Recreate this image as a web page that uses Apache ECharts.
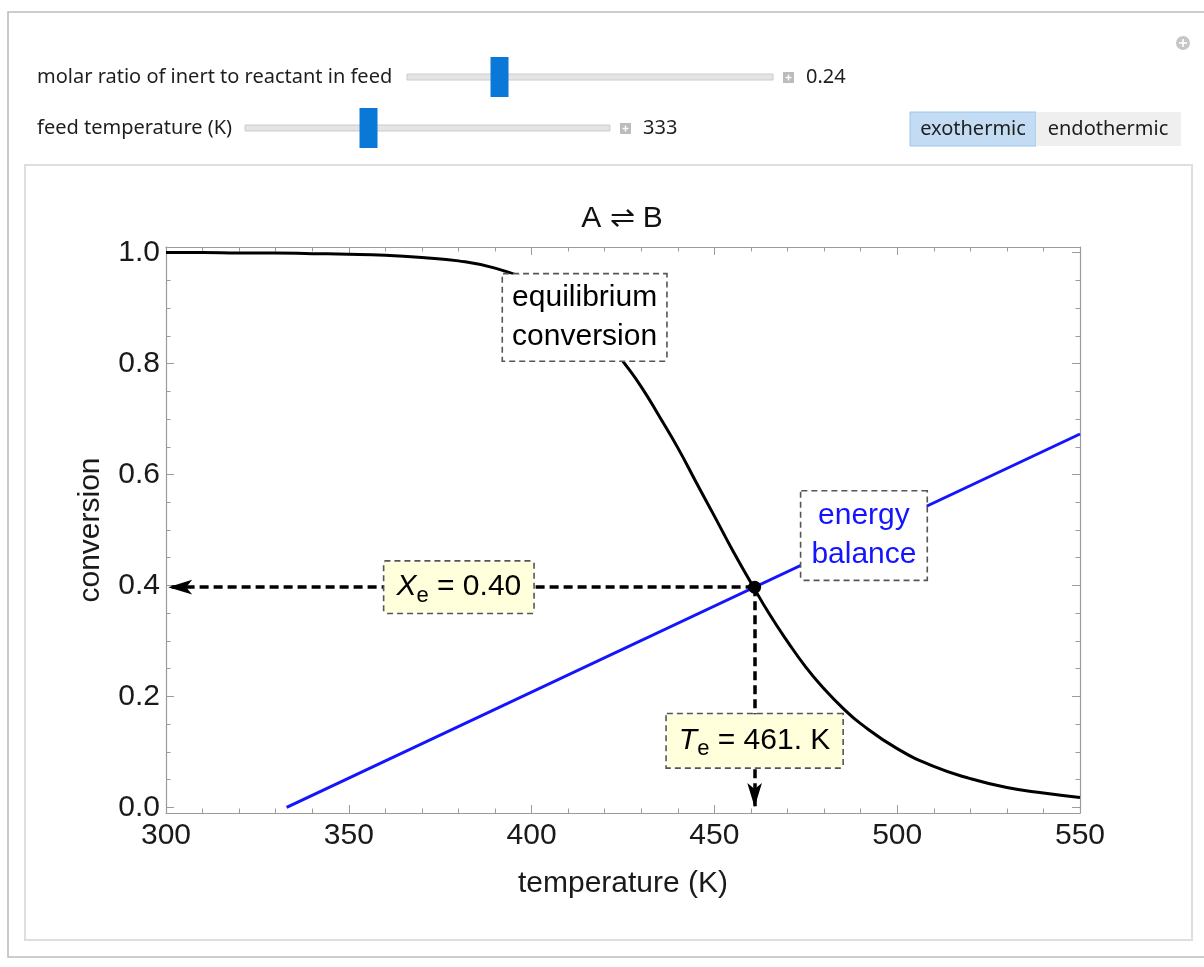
<!DOCTYPE html>
<html>
<head>
<meta charset="utf-8">
<script src="https://cdn.jsdelivr.net/npm/echarts@6/dist/echarts.min.js"></script>
<style>
html,body{margin:0;padding:0;background:#fff;}
#chart{width:1204px;height:967px;}
</style>
</head>
<body>
<div id="chart"></div>
<script>
// ---------------- data ----------------
const temperatureK = [300,310,320,330,340,350,360,370,380,390,400,405,410,415,420,425,430,435,440,445,450,455,460,465,470,475,480,485,490,500,510,520,530,540,550];
const equilibriumConversion = [1.000,1.000,0.999,0.999,0.998,0.997,0.995,0.991,0.985,0.972,0.949,0.932,0.910,0.879,0.848,0.804,0.758,0.704,0.648,0.586,0.525,0.463,0.405,0.349,0.299,0.253,0.214,0.180,0.151,0.106,0.074,0.052,0.036,0.026,0.018];
const energyBalanceT = [333, 550];
const energyBalanceX = [0.000, 0.673];
const equilibriumT = 461;      // T_e (K)
const equilibriumX = 0.397;    // X_e
const xTickValues = [300,350,400,450,500,550];
const yTickValues = [0,0.2,0.4,0.6,0.8,1.0];
const yMinorTickValues = [0.05,0.1,0.15,0.25,0.3,0.35,0.45,0.5,0.55,0.65,0.7,0.75,0.85,0.9,0.95];
const inertRatio = 0.24;       // slider 1 (range 0..1)
const feedTemperature = 333;   // slider 2 (range 300..400)

// ---------------- styles / layout ----------------
const F = 'Liberation Sans, Arial, sans-serif';
const UI = 'Noto Sans, Open Sans, sans-serif';
const frameGray = '#9b9b9b';
const GRID = {left:166, right:124, top:247, bottom:154};

const chart = echarts.init(document.getElementById('chart'), null, {renderer:'canvas'});

const curve = temperatureK.map((t,i)=>[t, equilibriumConversion[i]]);
const energyLine = energyBalanceT.map((t,i)=>[t, energyBalanceX[i]]);

const tickStyle = {color: frameGray, width: 1};
function xAxisCfg(pos, labels){
  return {
    type:'value', min:300, max:550, interval:50, position:pos,
    axisLine:{show:true, onZero:false, lineStyle:{color:frameGray, width:1.2}},
    axisTick:{show:true, inside:true, length:8, lineStyle:tickStyle},
    minorTick:{show:true, splitNumber:5, length:4.5, lineStyle:tickStyle},
    splitLine:{show:false}, minorSplitLine:{show:false},
    axisLabel:{show:labels, fontSize:30, color:'#1a1a1a', fontFamily:F, margin:8},
    name: labels ? 'temperature (K)' : '',
    nameLocation:'middle', nameGap:56,
    nameTextStyle:{fontSize:30, color:'#1a1a1a', fontFamily:F}
  };
}
function yAxisCfg(pos, major, labels){
  return {
    type:'value', min:-0.01, max:1.01, position:pos,
    axisLine:{show:major, onZero:false, lineStyle:{color:frameGray, width:1.2}},
    axisTick:{show:true, inside:true, length: major ? 8 : 4.5, lineStyle:tickStyle,
              customValues: major ? yTickValues : yMinorTickValues},
    splitLine:{show:false},
    axisLabel:{show:labels, customValues:yTickValues, fontSize:30, color:'#1a1a1a', fontFamily:F, margin:6,
               formatter:(v)=>v.toFixed(1)},
    name: labels ? 'conversion' : '',
    nameLocation:'middle', nameGap:60,
    nameTextStyle:{fontSize:30, color:'#1a1a1a', fontFamily:F}
  };
}

const boxBorder = {borderColor:'#555', borderWidth:1.6, borderType:[6,4]};
const subRich = (color)=>({
  i:{fontStyle:'italic', fontSize:30, lineHeight:40, fontFamily:F, color:color},
  s:{fontSize:22, lineHeight:20, verticalAlign:'bottom', fontFamily:F, color:color},
  n:{fontSize:30, lineHeight:40, fontFamily:F, color:color}
});

// annotation anchor points (data coordinates)
const eqLabelAt = [414.5, 0.883];
const ebLabelAt = [490.9, 0.490];
const xeLabelAt = [380.1, equilibriumX];
const teLabelAt = [equilibriumT, 0.120];
const leftArrowEnd = [300.6, equilibriumX];
const downArrowEnd = [equilibriumT, 0.001];

const annotations = [
  {value: eqLabelAt, label:Object.assign({formatter:'equilibrium\nconversion', color:'#000', fontSize:30, lineHeight:39,
     fontFamily:F, backgroundColor:'#fff', padding:[4,9,4,9]}, boxBorder)},
  {value: ebLabelAt, label:Object.assign({formatter:'energy\nbalance', color:'#1414ff', fontSize:30, lineHeight:39,
     fontFamily:F, backgroundColor:'#fff', padding:[5,10,5,10]}, boxBorder)},
  {value: xeLabelAt, label:Object.assign({formatter:'{i|X}{s|e}{n| = '+equilibriumX.toFixed(2)+'}', rich:subRich('#000'),
     backgroundColor:'#ffffdc', padding:[5,12,6,12]}, boxBorder)},
  {value: teLabelAt, label:Object.assign({formatter:'{i|T}{s|e}{n| = '+Math.round(equilibriumT)+'. K}', rich:subRich('#000'),
     backgroundColor:'#ffffdc', padding:[6,12,7,12]}, boxBorder)}
];

// ---------------- controls (drawn as graphics) ----------------
function slider(trackX0, trackX1, y, frac){
  const thumbW = 18, thumbH = 40;
  const cx = trackX0 + thumbW/2 + frac*(trackX1-trackX0-thumbW);
  return [
    {type:'rect', shape:{x:trackX0, y:y-3, width:trackX1-trackX0, height:6}, style:{fill:'#e4e4e4', stroke:'#cccccc', lineWidth:1}},
    {type:'rect', shape:{x:cx-thumbW/2, y:y-thumbH/2, width:thumbW, height:thumbH}, style:{fill:'#0a78d7'}}
  ];
}
function plusBox(x, y){
  return [
    {type:'rect', shape:{x:x, y:y, width:11, height:11}, style:{fill:'#bcbcbc'}},
    {type:'rect', shape:{x:x+2.5, y:y+4.8, width:6, height:1.4}, style:{fill:'#fff'}},
    {type:'rect', shape:{x:x+4.8, y:y+2.5, width:1.4, height:6}, style:{fill:'#fff'}}
  ];
}
const uiFont = '20px ' + UI;
const uiText = (x,y,t,align)=>({type:'text', x:x, y:y, style:{text:t, font:uiFont, fill:'#1e1e1e', textAlign:align||'left', textVerticalAlign:'middle'}});

const graphics = [].concat(
  [
    {type:'rect', shape:{x:8, y:12, width:1220, height:945}, style:{fill:'none', stroke:'#bdbdbd', lineWidth:1.6}, z:-1},
    {type:'rect', shape:{x:25, y:165, width:1167, height:775}, style:{fill:'none', stroke:'#dedede', lineWidth:2}, z:-1},
    {type:'circle', shape:{cx:1183, cy:43, r:7}, style:{fill:'#c6c6c6'}},
    {type:'rect', shape:{x:1179, y:42.2, width:8, height:1.6}, style:{fill:'#fff'}},
    {type:'rect', shape:{x:1182.2, y:39, width:1.6, height:8}, style:{fill:'#fff'}},
    uiText(37, 77, 'molar ratio of inert to reactant in feed'),
    uiText(37, 128, 'feed temperature (K)'),
    uiText(806, 77, inertRatio.toFixed(2)),
    uiText(643, 128, String(feedTemperature)),
    {type:'rect', shape:{x:910, y:112, width:126, height:34}, style:{fill:'#c3dcf3', stroke:'#9cc6ee', lineWidth:1}},
    {type:'rect', shape:{x:1036, y:112, width:145, height:34}, style:{fill:'#efefef'}},
    uiText(973, 129, 'exothermic', 'center'),
    uiText(1108, 129, 'endothermic', 'center'),
    {type:'text', x:622, y:219, style:{text:'A \u21CC B', font:'30px '+F, fill:'#111', textAlign:'center', textVerticalAlign:'middle'}}
  ],
  slider(407, 773, 77, (inertRatio-0)/(1-0)),
  slider(245, 610, 128, (feedTemperature-300)/(400-300)),
  plusBox(783, 72),
  plusBox(620, 123)
);

const option = {
  backgroundColor:'#fff',
  animation:false,
  grid:{left:GRID.left, right:GRID.right, top:GRID.top, bottom:GRID.bottom, containLabel:false},
  xAxis:[xAxisCfg('bottom', true), xAxisCfg('top', false)],
  yAxis:[yAxisCfg('left', true, true), yAxisCfg('left', false, false), yAxisCfg('right', true, false), yAxisCfg('right', false, false)],
  graphic: graphics,
  series:[
    {type:'line', name:'equilibrium conversion', data:curve, xAxisIndex:0, yAxisIndex:0,
     showSymbol:false, smooth:true, lineStyle:{color:'#000', width:3}, silent:true, z:2},
    {type:'line', name:'energy balance', data:energyLine, xAxisIndex:0, yAxisIndex:0,
     showSymbol:false, lineStyle:{color:'#1414ff', width:3}, silent:true, z:2},
    {type:'scatter', name:'equilibrium point', data:[[equilibriumT, equilibriumX]], xAxisIndex:0, yAxisIndex:0,
     symbolSize:13, itemStyle:{color:'#000', opacity:1}, silent:true, z:5,
     markLine:{silent:true, symbol:['none','arrow'], symbolSize:[11,24], label:{show:false},
       lineStyle:{color:'#000', width:3.5, type:[9,5], opacity:1}, emphasis:{disabled:true},
       data:[
         [{coord:[equilibriumT, equilibriumX]}, {coord:leftArrowEnd}],
         [{coord:[equilibriumT, equilibriumX]}, {coord:downArrowEnd}]
       ]}},
    {type:'scatter', name:'annotations', data:annotations, xAxisIndex:0, yAxisIndex:0,
     symbolSize:1, itemStyle:{color:'rgba(0,0,0,0)', opacity:1}, silent:true, z:10,
     label:{show:true, position:'inside'}}
  ]
};
chart.setOption(option);
</script>
</body>
</html>
